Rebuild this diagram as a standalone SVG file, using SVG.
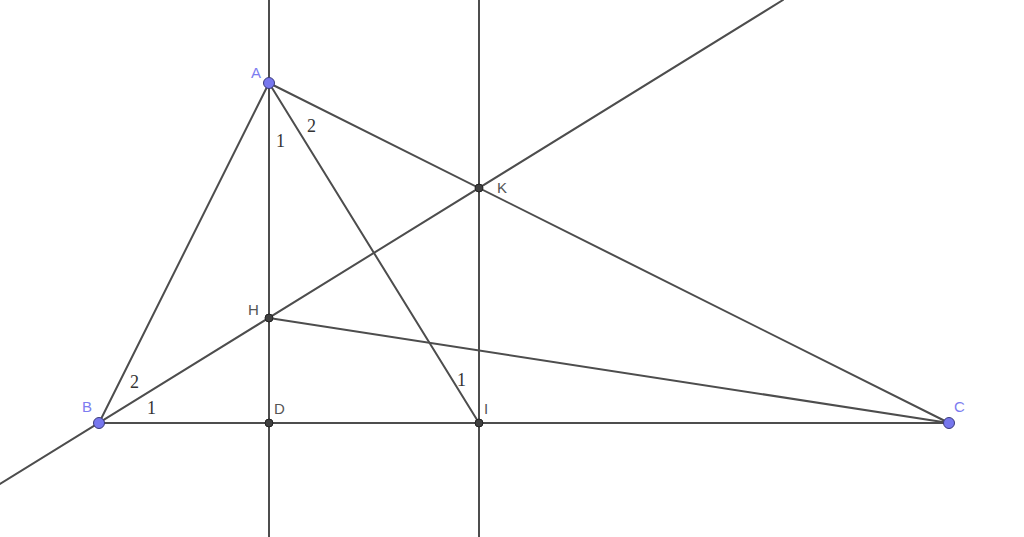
<svg xmlns="http://www.w3.org/2000/svg" width="1024" height="537" viewBox="0 0 1024 537">
<style>
.ln{stroke:#4d4d4d;stroke-width:2;fill:none;stroke-linecap:round}
.fp{fill:#7777ee;stroke:#3a3a7a;stroke-width:1}
.dp{fill:#404040;stroke:#222;stroke-width:1}
.lb{font-family:"Liberation Sans",Arial,sans-serif;font-size:15px;fill:#555}
.lbf{font-family:"Liberation Sans",Arial,sans-serif;font-size:15px;fill:#7c7cf0}
.ang{font-family:"Liberation Serif","Times New Roman",serif;font-size:18px;fill:#333}
</style>
<rect width="1024" height="537" fill="#ffffff"/>
<g id="connectors">
<line class="ln" x1="269" y1="0" x2="269" y2="537"/>
<line class="ln" x1="479" y1="0" x2="479" y2="537"/>
<line class="ln" x1="0" y1="484" x2="783" y2="0"/>
<line class="ln" x1="269" y1="83" x2="99" y2="423"/>
<line class="ln" x1="269" y1="83" x2="949" y2="423"/>
<line class="ln" x1="99" y1="423" x2="949" y2="423"/>
<line class="ln" x1="269" y1="83" x2="479" y2="423"/>
<line class="ln" x1="269" y1="318" x2="949" y2="423"/>
</g>
<g id="angle-labels">
<text class="ang" x="276" y="147">1</text>
<text class="ang" x="307" y="132">2</text>
<text class="ang" x="130" y="388">2</text>
<text class="ang" x="147" y="414">1</text>
<text class="ang" x="457" y="386">1</text>
</g>
<g id="node-A"><circle class="fp" cx="269" cy="83" r="5.5"/><text class="lbf" x="251" y="78">A</text></g>
<g id="node-B"><circle class="fp" cx="99" cy="423" r="5.5"/><text class="lbf" x="82" y="412">B</text></g>
<g id="node-C"><circle class="fp" cx="949" cy="423" r="5.5"/><text class="lbf" x="954" y="412">C</text></g>
<g id="node-D"><circle class="dp" cx="269" cy="423" r="4"/><text class="lb" x="274" y="414">D</text></g>
<g id="node-I"><circle class="dp" cx="479" cy="423" r="4"/><text class="lb" x="484" y="414">I</text></g>
<g id="node-K"><circle class="dp" cx="479" cy="188" r="4"/><text class="lb" x="497" y="193">K</text></g>
<g id="node-H"><circle class="dp" cx="269" cy="318" r="4"/><text class="lb" x="248" y="315">H</text></g>
</svg>
